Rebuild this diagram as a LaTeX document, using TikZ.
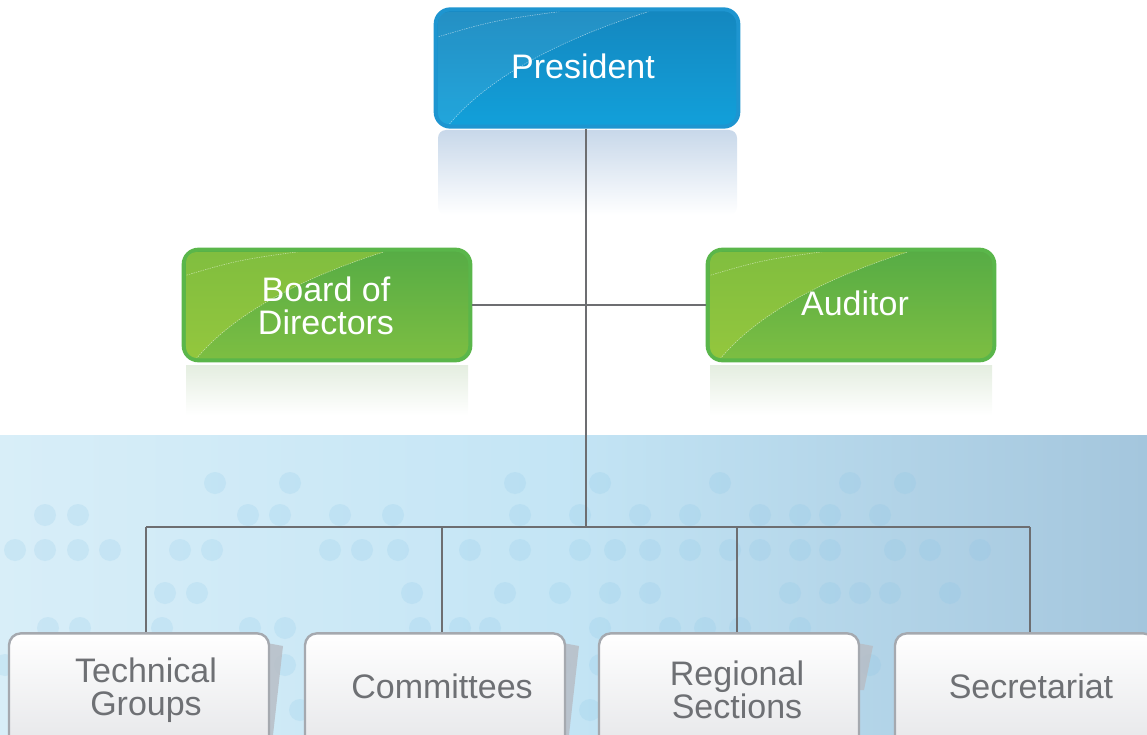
\documentclass[tikz,border=0pt]{standalone}
\usepackage{fontspec}
\setmainfont{Liberation Sans}
\definecolor{linegray}{HTML}{6D6E71}
\definecolor{labelgray}{HTML}{6E7074}
\definecolor{blueA}{HTML}{1487BF}
\definecolor{blueB}{HTML}{12A0DA}
\definecolor{blueEdge}{HTML}{1E95D0}
\definecolor{greenA}{HTML}{56AC45}
\definecolor{greenB}{HTML}{7DBE42}
\definecolor{greenEdge}{HTML}{5AB64A}
\definecolor{yellowgreen}{HTML}{ABD03A}
\definecolor{boxEdge}{HTML}{A5A9AF}
\definecolor{boxBottom}{HTML}{E2E3E6}
\definecolor{bgLeft}{HTML}{D8EEF8}
\definecolor{bgMid}{HTML}{C4E5F5}
\definecolor{bgRight}{HTML}{A4C6DD}
\definecolor{dotblue}{HTML}{7FC2E6}
\definecolor{foldgray}{HTML}{B8BEC6}
\definecolor{reflBlue}{HTML}{C8D8EA}
\definecolor{reflGreen}{HTML}{E4EEE0}
\newcommand\lblfont{\fontsize{25.5}{25}\selectfont}
\newcommand\glossy[5]{%
  \begin{scope}
    \clip[rounded corners=8pt] (#1+4,#2+4) rectangle (#1+#3-4,#2+#4-4);
    \fill[#5] (#1,#2) -- (#1+0.74*#3,#2) .. controls (#1+0.45*#3,#2+0.22*#4) and (#1+0.18*#3,#2+0.55*#4) .. (#1+0.04*#3,#2+#4) -- (#1,#2+#4) -- cycle;
    \draw[white, opacity=0.55, line width=0.4pt, dash pattern=on 1pt off 0.8pt] (#1+0.74*#3,#2) .. controls (#1+0.45*#3,#2+0.22*#4) and (#1+0.18*#3,#2+0.55*#4) .. (#1+0.04*#3,#2+#4);
    \draw[white, opacity=0.55, line width=0.4pt, dash pattern=on 1pt off 0.8pt] (#1,#2+0.25*#4) .. controls (#1+0.2*#3,#2+0.1*#4) .. (#1+0.5*#3,#2);
  \end{scope}}
\tikzset{
  conn/.style={draw=linegray, line width=1.1pt},
  bluebox/.style={rounded corners=11pt, draw=blueEdge, line width=3pt, top color=blueA, bottom color=blueB,
    minimum width=227pt, minimum height=88pt, text=white, font=\lblfont, align=center},
  greenbox/.style={rounded corners=11pt, draw=greenEdge, line width=3pt, top color=greenA, bottom color=greenB,
    minimum width=215pt, minimum height=83pt, text=white, font=\lblfont, align=center},
  lowbox/.style={rounded corners=9pt, draw=boxEdge, line width=1.8pt, top color=white, bottom color=boxBottom,
    minimum width=195pt, minimum height=100pt},
  lowtext/.style={text=labelgray, font=\lblfont, align=center, inner sep=0pt},
  dot/.style={fill=dotblue, opacity=0.17},
  fold/.style={fill=foldgray, opacity=0.85}
}
\begin{document}
\begin{tikzpicture}[x=0.75pt,y=-0.75pt]
\useasboundingbox (0,0) rectangle (1147,735);
\clip (0,0) rectangle (1147,735);
% background band
\shade[left color=bgLeft, right color=bgMid] (0,435) rectangle (560.5,735);
\shade[left color=bgMid, right color=bgRight] (560,435) rectangle (1147,735);
\foreach \x/\y in {215/483,290/483,515/483,600/483,720/483,850/483,905/483,
  45/515,78/515,248/515,280/515,340/515,393/515,520/515,580/515,640/515,690/515,760/515,800/515,830/515,880/515,
  15/550,45/550,78/550,110/550,180/550,212/550,330/550,362/550,398/550,470/550,520/550,580/550,615/550,650/550,690/550,730/550,760/550,800/550,830/550,895/550,930/550,980/550,
  165/593,197/593,412/593,505/593,560/593,610/593,650/593,790/593,830/593,860/593,890/593,950/593,
  48/628,80/628,162/628,250/628,285/628,420/628,460/628,490/628,600/628,670/628,705/628,740/628,800/628,
  5/665,45/665,285/665,560/665,600/665,660/665,870/665,
  300/710,590/710,1000/710}
  \fill[dot] (\x,\y) circle (11);
% reflections
\shade[top color=reflBlue, bottom color=white, rounded corners=6pt] (438,130) rectangle (737,215);
\shade[top color=reflGreen, bottom color=white] (186,365) rectangle (468,415);
\shade[top color=reflGreen, bottom color=white] (710,365) rectangle (992,415);
% connector points
\coordinate (hub) at (586,305);
\coordinate (bus) at (586,527);
\coordinate (busL) at (146,527);
\coordinate (busR) at (1030,527);
% boxes
\node[bluebox] (pres) at (587,68) {};
\glossy{434}{8}{306}{120}{white, opacity=0.07}
\node[text=white, font=\lblfont] (presl) at (583,66) {President};
\node[greenbox] (board) at (327,305) {};
\glossy{182}{248}{290}{114}{yellowgreen, opacity=0.5}
\node[text=white, font=\lblfont, align=center] (boardl) at (326,306) {Board of\\Directors};
\node[greenbox] (aud) at (851,305) {};
\glossy{706}{248}{290}{114}{yellowgreen, opacity=0.5}
\node[text=white, font=\lblfont] (audl) at (855,303) {Auditor};
\draw[conn] (pres.south -| hub) -- (bus);
\draw[conn] (board.east) -- (aud.west);
\draw[conn] (busL) -- (busR);
% bottom folds
\fill[fold] (267,643) -- (283,646) -- (273,735) -- (267,735) -- cycle;
\fill[fold] (563,643) -- (579,646) -- (569,735) -- (563,735) -- cycle;
\fill[fold] (857,643) -- (873,646) -- (864,690) -- (857,690) -- cycle;
% bottom boxes
\node[lowbox] (tg) at (139,700) {};
\node[lowbox] (com) at (435,700) {};
\node[lowbox] (reg) at (729,700) {};
\node[lowbox] (sec) at (1025,700) {};
\node[lowtext] (tgl) at (146,690) {Technical\\Groups};
\node[lowtext] (coml) at (442,686) {Committees};
\node[lowtext] (regl) at (737,690) {Regional\\Sections};
\node[lowtext] (secl) at (1031,686) {Secretariat};
\draw[conn] (busL) -- (busL |- tg.north);
\draw[conn] (bus -| coml) -- (coml |- com.north);
\draw[conn] (bus -| regl) -- (regl |- reg.north);
\draw[conn] (busR) -- (busR |- sec.north);
\end{tikzpicture}
\end{document}
